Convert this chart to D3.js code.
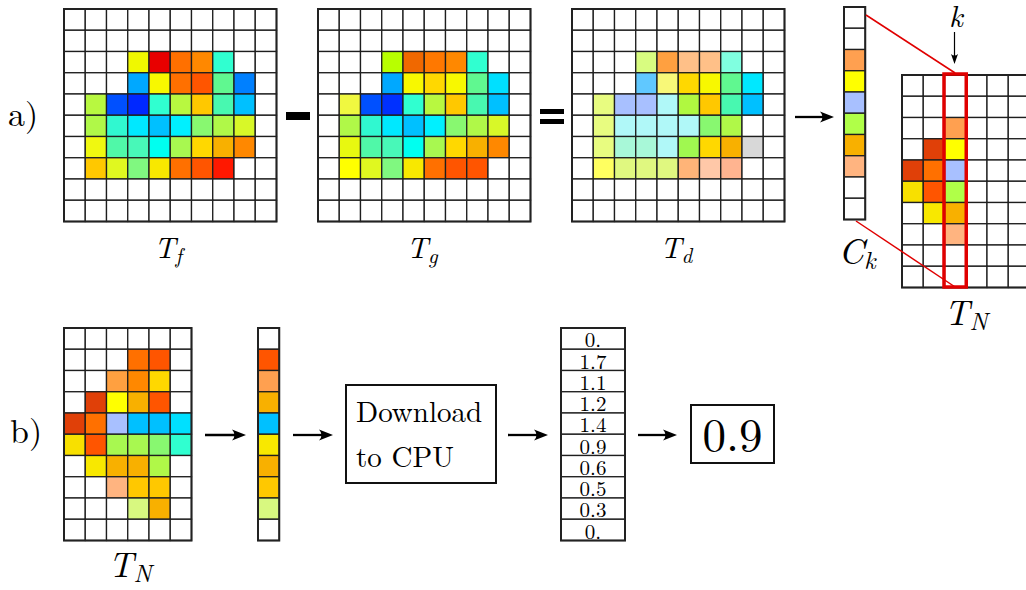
<!DOCTYPE html>
<html>
<head>
<meta charset="utf-8">
<script src="https://cdn.jsdelivr.net/npm/d3@7"></script>
<style>
  html, body { margin: 0; padding: 0; background: #fff; }
  svg { display: block; }
</style>
</head>
<body>
<svg id="fig" width="1026" height="590"></svg>
<script>
// Cell colours of each texture ("" = empty cell), listed row by row.
const tfCells = [
  ["","","","","","","","","",""],
  ["","","","","","","","","",""],
  ["","","","#f0f800","#e80000","#ff7000","#ff8800","#30ffd0","",""],
  ["","","","#00a8ff","#f8f800","#ff7000","#ff5500","#60f890","#0080ff",""],
  ["","#b8f840","#0050ff","#0028ff","#30ffd0","#b8f840","#ffc800","#48f8b0","#00c0ff",""],
  ["","#b0f848","#30f8d0","#00e8ff","#00c0ff","#00f0ff","#88f870","#b0f848","#d8f828",""],
  ["","#f0f810","#50f8a8","#48f8b8","#00fff0","#a8f850","#ffd800","#f8b000","#ff8800",""],
  ["","#ffc800","#e0f820","#80f880","#f8e800","#ff7000","#ff5500","#ff1800","",""],
  ["","","","","","","","","",""],
  ["","","","","","","","","",""]
];
const tgCells = [
  ["","","","","","","","","",""],
  ["","","","","","","","","",""],
  ["","","","#b8ff00","#f06800","#ff7800","#ff8800","#30ffd0","",""],
  ["","","","#00a8ff","#f8f800","#ffd800","#f8f800","#60f890","#00e0ff",""],
  ["","#f0f840","#0050ff","#0030ff","#30ffd0","#b8f840","#ffc800","#48f8b0","#00c0ff",""],
  ["","#b0f848","#30f8d0","#00e8ff","#00c0ff","#00f0ff","#88f870","#b0f848","#d8f828",""],
  ["","#e8f810","#50f8a8","#48f8b8","#00fff0","#a8f850","#ffd800","#f8b000","#ff8800",""],
  ["","#ffff00","#e0f820","#80f880","#f8e800","#ff7000","#ff5500","#ff5500","",""],
  ["","","","","","","","","",""],
  ["","","","","","","","","",""]
];
const tdCells = [
  ["","","","","","","","","",""],
  ["","","","","","","","","",""],
  ["","","","#d8fc80","#ffa040","#ffc088","#ffc088","#80ffe0","",""],
  ["","","","#60c8ff","#f8f878","#ffd800","#f8f800","#60f890","#00e8ff",""],
  ["","#e8fc80","#a8c0ff","#a8c0ff","#b0f8f8","#b0f840","#ffc800","#48f8b0","#00c0ff",""],
  ["","#e8fc80","#b0f8f8","#b0f8f8","#b0f8f8","#b0f8f8","#88f870","#b0f848","",""],
  ["","#e8fc80","#a8f8d8","#a8f8d8","#b0f8f8","#a0f850","#ffd800","#f8b000","#d8d8d8",""],
  ["","#ffff60","#e0f880","#e0f880","#e0f880","#ffb478","#ffc8a8","#ffb490","",""],
  ["","","","","","","","","",""],
  ["","","","","","","","","",""]
];
const ckCells = ["","","#ffa050","#ffff00","#a8c0ff","#b0ff48","#f8b000","#ffb480","",""];
const tnPartialCells = [
  ["","","","","",""],
  ["","","","","",""],
  ["","","#ffa050","","",""],
  ["","#e04008","#ffff00","","",""],
  ["#e04008","#ff7000","#a8c0ff","","",""],
  ["#f8e000","#ff5500","#b0ff48","","",""],
  ["","#f8e800","#f8b000","","",""],
  ["","","#ffb480","","",""],
  ["","","","","",""],
  ["","","","","",""]
];
const tnCells = [
  ["","","","","",""],
  ["","","","#ff7000","#ff5500",""],
  ["","","#ffa040","#ff8800","#ffd800",""],
  ["","#e04008","#ffff00","#f8b000","#ff5500",""],
  ["#e04008","#ff7000","#a8c0ff","#00c0ff","#00c0ff","#00e0ff"],
  ["#f8e000","#ff5500","#a8f850","#a8f850","#88f870","#30ffd0"],
  ["","#f8e800","#f8b000","#f8b000","#b0f848",""],
  ["","","#ffb480","#ffc800","#ffc800",""],
  ["","","","#d8f880","#f8b000",""],
  ["","","","","",""]
];
const reducedCells = ["","#ff5500","#ffa050","#f8b000","#00c0ff","#f8e800","#f8b000","#ffc800","#d8f880",""];
const downloadedValues = ["0.", "1.7", "1.1", "1.2", "1.4", "0.9", "0.6", "0.5", "0.3", "0."];
const resultValue = "0.9";

const SERIF = "'Latin Modern Roman', 'Liberation Serif', monospace";
const svg = d3.select("#fig");
const CELL = 21.25;

// Draw a grid of coloured cells with its top-left corner at (x0, y0).
function drawGrid(cells, x0, y0) {
  const rows = cells.map(r => Array.isArray(r) ? r : [r]);
  const nr = rows.length, nc = rows[0].length;
  const x = d3.scaleBand().domain(d3.range(nc)).range([x0, x0 + nc * CELL]);
  const y = d3.scaleBand().domain(d3.range(nr)).range([y0, y0 + nr * CELL]);
  const g = svg.append("g");
  const flat = [];
  rows.forEach((r, i) => r.forEach((c, j) => flat.push({ i, j, c })));
  g.selectAll("rect.cell").data(flat).join("rect")
    .attr("class", "cell")
    .attr("x", d => x(d.j)).attr("y", d => y(d.i))
    .attr("width", x.bandwidth()).attr("height", y.bandwidth())
    .attr("fill", d => d.c || "#fff")
    .attr("stroke", "#1e1e1e").attr("stroke-width", 1.3);
  g.append("rect")
    .attr("x", x0).attr("y", y0)
    .attr("width", nc * CELL).attr("height", nr * CELL)
    .attr("fill", "none").attr("stroke", "#222").attr("stroke-width", 2);
  return { g, x, y };
}

// Horizontal arrow with a stealth head.
function arrow(x1, x2, y, sw = 2.3) {
  svg.append("line").attr("x1", x1).attr("x2", x2 - 8).attr("y1", y).attr("y2", y)
    .attr("stroke", "#000").attr("stroke-width", sw);
  const p = d3.path();
  p.moveTo(x2, y);
  p.lineTo(x2 - 14, y - 5.5);
  p.quadraticCurveTo(x2 - 9, y, x2 - 14, y + 5.5);
  p.closePath();
  svg.append("path").attr("d", p.toString()).attr("fill", "#000");
}

function txt(x, y, size, s) {
  return svg.append("text").attr("x", x).attr("y", y)
    .attr("font-family", SERIF).attr("font-size", size).text(s);
}

// Italic symbol with subscript.
function mathLabel(cx, baseline, main, sub, size) {
  const t = svg.append("text").attr("x", cx).attr("y", baseline)
    .attr("font-family", SERIF)
    .attr("text-anchor", "middle").attr("font-size", size).attr("font-style", "italic");
  t.append("tspan").text(main);
  t.append("tspan").attr("dy", size * 0.15).attr("font-size", size * 0.7).text(sub);
}

// ---------- a) ----------
txt(8, 126, 34, "a)");

drawGrid(tfCells, 64, 9);
mathLabel(168, 258, "T", "f", 30);

svg.append("rect").attr("x", 286).attr("y", 112).attr("width", 24).attr("height", 8).attr("fill", "#000");

drawGrid(tgCells, 318, 9);
mathLabel(422, 258, "T", "g", 30);

svg.append("rect").attr("x", 540).attr("y", 109).attr("width", 24).attr("height", 5).attr("fill", "#000");
svg.append("rect").attr("x", 540).attr("y", 119).attr("width", 24).attr("height", 5).attr("fill", "#000");

drawGrid(tdCells, 572, 9);
mathLabel(676, 258, "T", "d", 30);

arrow(795, 834, 117);

drawGrid(ckCells, 844, 7);
mathLabel(857, 264, "C", "k", 36);

const tnp = drawGrid(tnPartialCells, 902, 75);
mathLabel(966, 325, "T", "N", 35);

// Column k highlighted in the target texture, linked to the extracted column.
const kx = tnp.x(2), kw = tnp.x.bandwidth();
svg.append("line").attr("x1", 866).attr("y1", 15).attr("x2", kx + kw / 2).attr("y2", 73)
  .attr("stroke", "#e00000").attr("stroke-width", 1.5);
svg.append("line").attr("x1", 856).attr("y1", 221).attr("x2", kx + kw / 2).attr("y2", 287)
  .attr("stroke", "#e00000").attr("stroke-width", 1.5);
svg.append("rect").attr("x", kx - 0.5).attr("y", 74).attr("width", kw + 1).attr("height", 213)
  .attr("fill", "none").attr("stroke", "#e00000").attr("stroke-width", 3.5);

// k marker arrow
svg.append("text").attr("x", 956).attr("y", 27).attr("text-anchor", "middle")
  .attr("font-family", SERIF).attr("font-size", 30).attr("font-style", "italic").text("k");
svg.append("line").attr("x1", 954.5).attr("x2", 954.5).attr("y1", 32).attr("y2", 56)
  .attr("stroke", "#000").attr("stroke-width", 1.2);
svg.append("path").attr("d", "M954.5,64 L951,54 Q954.5,57 958,54 Z").attr("fill", "#000");

// ---------- b) ----------
txt(10, 443, 34, "b)");

drawGrid(tnCells, 64, 328);
mathLabel(130, 577, "T", "N", 35);

arrow(205, 246, 435);
drawGrid(reducedCells, 258, 328);
arrow(293, 333, 435);

svg.append("rect").attr("x", 346).attr("y", 385).attr("width", 150).attr("height", 98)
  .attr("fill", "none").attr("stroke", "#111").attr("stroke-width", 2);
txt(356, 422, 29, "Download");
txt(356, 467, 29, "to CPU");

arrow(508, 548, 435);

// Values read back on the CPU
const vy = d3.scaleBand().domain(d3.range(downloadedValues.length)).range([328, 328 + downloadedValues.length * CELL]);
const vg = svg.append("g");
vg.selectAll("rect").data(downloadedValues).join("rect")
  .attr("x", 561).attr("y", (d, i) => vy(i)).attr("width", 64).attr("height", vy.bandwidth())
  .attr("fill", "#fff").attr("stroke", "#1e1e1e").attr("stroke-width", 1.3);
vg.append("rect").attr("x", 561).attr("y", 328).attr("width", 64).attr("height", downloadedValues.length * CELL)
  .attr("fill", "none").attr("stroke", "#222").attr("stroke-width", 2);
vg.selectAll("text").data(downloadedValues).join("text")
  .attr("x", 593).attr("y", (d, i) => vy(i) + vy.bandwidth() - 2)
  .attr("font-family", SERIF)
  .attr("text-anchor", "middle").attr("font-size", 21).text(d => d);

arrow(638, 677, 435);

svg.append("rect").attr("x", 691).attr("y", 405).attr("width", 83).attr("height", 58)
  .attr("fill", "none").attr("stroke", "#111").attr("stroke-width", 2);
svg.append("text").attr("x", 732.5).attr("y", 451).attr("text-anchor", "middle")
  .attr("font-family", SERIF).attr("font-size", 47).text(resultValue);
</script>
</body>
</html>
